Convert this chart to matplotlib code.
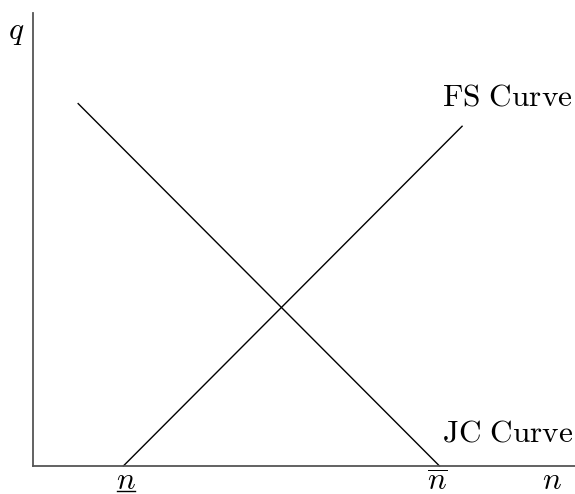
import matplotlib
matplotlib.use("Agg")
import matplotlib.pyplot as plt
from matplotlib.lines import Line2D

plt.rcParams['mathtext.fontset'] = 'cm'

# Data
fs_x = [2.0, 9.5]
fs_y = [0.0, 7.5]
jc_x = [1.0, 9.0]
jc_y = [8.0, 0.0]
curve_labels = [r'$\mathrm{FS\ Curve}$', r'$\mathrm{JC\ Curve}$']
n_low = 2.05
n_high = 8.95

W, H = 575, 494
fig = plt.figure(figsize=(W/100, H/100), dpi=100)
ax = fig.add_axes([33/W, (H-466)/H, (575-33)/W, (466-13)/H])
ax.set_xlim(0, 12)
ax.set_ylim(0, 10)
for s in ['top', 'right']:
    ax.spines[s].set_visible(False)
for s in ['left', 'bottom']:
    ax.spines[s].set_color('#555555')
    ax.spines[s].set_linewidth(1.3)
ax.set_xticks([])
ax.set_yticks([])

ax.plot(fs_x, fs_y, color='black', lw=1.0, clip_on=False)
ax.plot(jc_x, jc_y, color='black', lw=1.0, clip_on=False)

fsz = 22.5
ax.text(10.5, 8.15, curve_labels[0], fontsize=fsz, ha='center', va='center')
ax.text(10.5, 0.73, curve_labels[1], fontsize=fsz, ha='center', va='center')
ax.text(-0.38, 9.58, r'$q$', fontsize=fsz, ha='center', va='center', clip_on=False)
ax.text(11.5, -0.33, r'$n$', fontsize=fsz, ha='center', va='center', clip_on=False)
ax.text(n_low, -0.33, r'$n$', fontsize=fsz, ha='center', va='center', clip_on=False)
ax.text(n_high, -0.35, r'$\overline{n}$', fontsize=fsz, ha='center', va='center', clip_on=False)
# underline for lower n
ax.add_line(Line2D([n_low - 0.2, n_low + 0.2], [-0.55, -0.55], color='black', lw=1.0, clip_on=False))

fig.savefig('out.png', dpi=100)
